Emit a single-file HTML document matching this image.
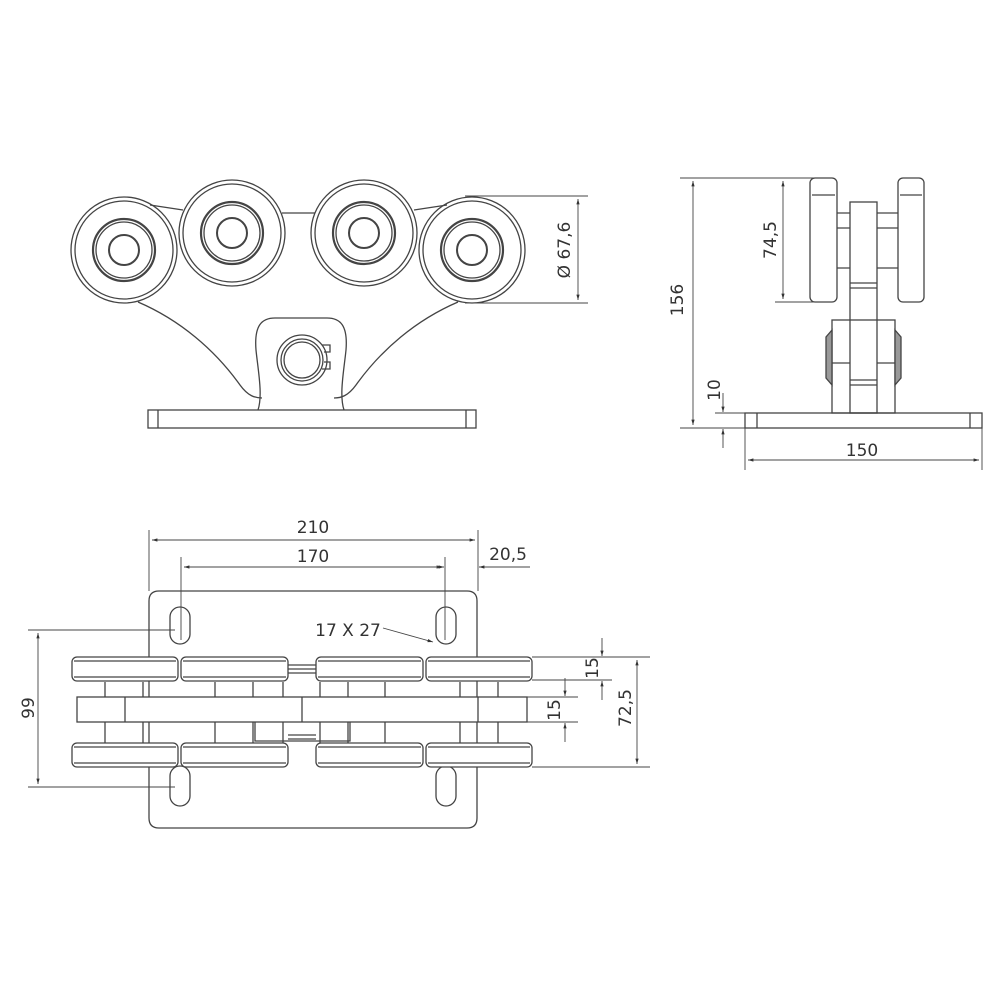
<!DOCTYPE html>
<html><head><meta charset="utf-8"><style>
html,body{margin:0;padding:0;background:#fff;}
svg{display:block}
text{font-family:"DejaVu Sans","Liberation Sans",sans-serif;fill:#333;font-size:17px}
</style></head><body>
<svg width="1000" height="1000" viewBox="0 0 1000 1000" xmlns="http://www.w3.org/2000/svg">
<defs>
<marker id="a" viewBox="0 0 10 10" refX="10" refY="5" markerWidth="8" markerHeight="6" orient="auto-start-reverse"><path d="M0,2 L10,5 L0,8 z" fill="#333"/></marker>
</defs>
<g fill="none" stroke="#444" stroke-width="1.3">
<!-- FRONT VIEW -->
<path d="M150,205 L183,210 M282,213 L315,213 M414,210 L447,205"/>
<path d="M138,302 C180,320 215,350 240,385 C248,396 255,398 262,398"/>
<path d="M458,302 C416,320 381,350 356,385 C348,396 341,398 334,398"/>
<path d="M258,410 C263,395 258,370 256,350 C254,325 262,318 275,318 L327,318 C340,318 348,325 346,350 C344,370 339,395 344,410"/>
<rect x="148" y="410" width="328" height="18"/>
<path d="M158,410 V428 M466,410 V428"/>
<circle cx="302" cy="360" r="25"/><circle cx="302" cy="360" r="21"/><circle cx="302" cy="360" r="18"/>
<path d="M322,345 L330,345 L330,352 L324,352 M324,362 L330,362 L330,369 L322,369"/>
<g>
<circle cx="124" cy="250" r="53"/><circle cx="124" cy="250" r="49"/>
<circle cx="124" cy="250" r="31" stroke-width="2.2"/><circle cx="124" cy="250" r="28"/><circle cx="124" cy="250" r="15" stroke-width="2"/>
<circle cx="232" cy="233" r="53"/><circle cx="232" cy="233" r="49"/>
<circle cx="232" cy="233" r="31" stroke-width="2.2"/><circle cx="232" cy="233" r="28"/><circle cx="232" cy="233" r="15" stroke-width="2"/>
<circle cx="364" cy="233" r="53"/><circle cx="364" cy="233" r="49"/>
<circle cx="364" cy="233" r="31" stroke-width="2.2"/><circle cx="364" cy="233" r="28"/><circle cx="364" cy="233" r="15" stroke-width="2"/>
<circle cx="472" cy="250" r="53"/><circle cx="472" cy="250" r="49"/>
<circle cx="472" cy="250" r="31" stroke-width="2.2"/><circle cx="472" cy="250" r="28"/><circle cx="472" cy="250" r="15" stroke-width="2"/>
</g>
<g stroke-width="0.9">
<path d="M465,196 H588 M465,303 H588"/>
<path d="M578,199 V300" marker-start="url(#a)" marker-end="url(#a)"/>
</g>

<!-- SIDE VIEW -->
<rect x="810" y="178" width="27" height="124" rx="5"/>
<path d="M812,195 H835"/>
<rect x="898" y="178" width="26" height="124" rx="5"/>
<path d="M900,195 H922"/>
<rect x="850" y="202" width="27" height="211"/>
<path d="M837,213 H850 M837,228 H850 M837,268 H850 M877,213 H898 M877,228 H898 M877,268 H898"/>
<path d="M850,283 H877 M850,288 H877 M850,380 H877 M850,385 H877"/>
<rect x="832" y="320" width="63" height="93"/>
<path d="M832,363 H850 M877,363 H895"/>
<path d="M832,330 L826,337 L826,378 L832,385 Z M895,330 L901,337 L901,378 L895,385 Z" fill="#999"/>
<rect x="745" y="413" width="237" height="15"/>
<path d="M757,413 V428 M970,413 V428"/>
<g stroke-width="0.9">
<path d="M680,178 H832 M680,428 H745 M775,302 H820 M715,413 H745 M715,428 H720"/>
<path d="M693,181 V425" marker-start="url(#a)" marker-end="url(#a)"/>
<path d="M783,181 V299" marker-start="url(#a)" marker-end="url(#a)"/>
<path d="M723,393 V412" marker-end="url(#a)"/>
<path d="M723,448 V429" marker-end="url(#a)"/>
<path d="M745,428 V470 M982,428 V470"/>
<path d="M748,460 H979" marker-start="url(#a)" marker-end="url(#a)"/>
</g>

<!-- TOP VIEW -->
<path d="M159,591 H467 Q477,591 477,601 V818 Q477,828 467,828 H159 Q149,828 149,818 V601 Q149,591 159,591 Z"/>
<rect x="170" y="607" width="20" height="37" rx="10"/>
<rect x="436" y="607" width="20" height="37" rx="10"/>
<rect x="170" y="766" width="20" height="40" rx="10"/>
<rect x="436" y="766" width="20" height="40" rx="10"/>
<rect x="77" y="697" width="450" height="25" fill="#fff"/>
<path d="M125,697 V722 M302,697 V722 M478,697 V722"/>
<path d="M105,682 V697 M143,682 V697 M215,682 V697 M253,682 V697 M283,682 V697 M320,682 V697 M348,682 V697 M385,682 V697 M460,682 V697 M498,682 V697"/>
<path d="M105,722 V743 M143,722 V743 M215,722 V743 M253,722 V743 M283,722 V743 M320,722 V743 M348,722 V743 M385,722 V743 M460,722 V743 M498,722 V743"/>
<path d="M255,722 V741 H350 V722"/>
<path d="M288,665 H316 M288,669 H316 M288,673 H316 M288,735 H316 M288,739 H316"/>
<g fill="#fff">
<rect x="72" y="657" width="106" height="24" rx="5"/>
<rect x="181" y="657" width="107" height="24" rx="5"/>
<rect x="316" y="657" width="107" height="24" rx="5"/>
<rect x="426" y="657" width="106" height="24" rx="5"/>
<rect x="72" y="743" width="106" height="24" rx="5"/>
<rect x="181" y="743" width="107" height="24" rx="5"/>
<rect x="316" y="743" width="107" height="24" rx="5"/>
<rect x="426" y="743" width="106" height="24" rx="5"/>
</g>
<path d="M74,661 H176 M74,677 H176 M183,661 H286 M183,677 H286 M318,661 H421 M318,677 H421 M428,661 H530 M428,677 H530"/>
<path d="M74,747 H176 M74,763 H176 M183,747 H286 M183,763 H286 M318,747 H421 M318,763 H421 M428,747 H530 M428,763 H530"/>
<g stroke-width="0.9">
<path d="M149,530 V591 M478,530 V591 M181,557 V640 M445,557 V640"/>
<path d="M152,540 H475" marker-start="url(#a)" marker-end="url(#a)"/>
<path d="M184,567 H442" marker-start="url(#a)" marker-end="url(#a)"/>
<path d="M425,567 H444" marker-end="url(#a)"/>
<path d="M530,567 H479" marker-end="url(#a)"/>
<path d="M28,630 H175 M28,787 H175"/>
<path d="M38,633 V784" marker-start="url(#a)" marker-end="url(#a)"/>
<path d="M532,657 H650 M532,680 H612 M527,697 H578 M527,722 H578 M532,767 H650"/>
<path d="M602,638 V656" marker-end="url(#a)"/>
<path d="M602,700 V681" marker-end="url(#a)"/>
<path d="M565,678 V696" marker-end="url(#a)"/>
<path d="M565,742 V723" marker-end="url(#a)"/>
<path d="M637,660 V764" marker-start="url(#a)" marker-end="url(#a)"/>
<path d="M383,628 L433,642" marker-end="url(#a)"/>
</g>
</g>
<text x="570" y="250" text-anchor="middle" transform="rotate(-90 570 250)">Ø 67,6</text>
<text x="683" y="300" text-anchor="middle" transform="rotate(-90 683 300)">156</text>
<text x="776" y="240" text-anchor="middle" transform="rotate(-90 776 240)">74,5</text>
<text x="720" y="390" text-anchor="middle" transform="rotate(-90 720 390)">10</text>
<text x="862" y="456" text-anchor="middle">150</text>
<text x="313" y="533" text-anchor="middle">210</text>
<text x="313" y="562" text-anchor="middle">170</text>
<text x="508" y="560" text-anchor="middle">20,5</text>
<text x="348" y="636" text-anchor="middle">17 X 27</text>
<text x="34" y="708" text-anchor="middle" transform="rotate(-90 34 708)">99</text>
<text x="598" y="668" text-anchor="middle" transform="rotate(-90 598 668)">15</text>
<text x="560" y="710" text-anchor="middle" transform="rotate(-90 560 710)">15</text>
<text x="631" y="708" text-anchor="middle" transform="rotate(-90 631 708)">72,5</text>
</svg>
</body></html>
